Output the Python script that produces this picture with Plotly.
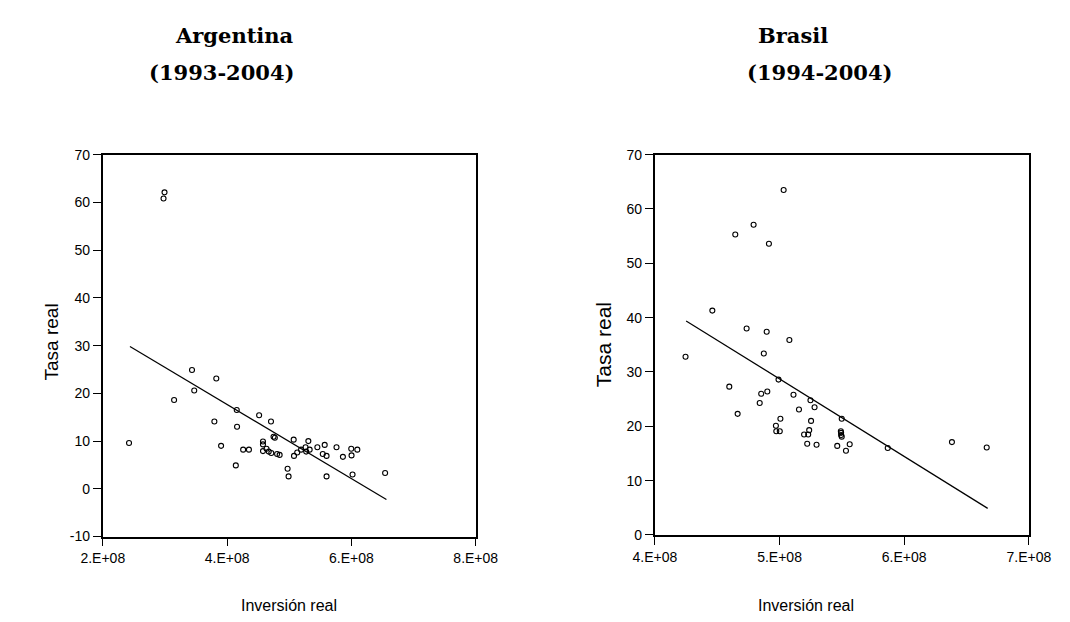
import plotly.graph_objects as go

# ---------------- Data ----------------
# Argentina (1993-2004): inversion real (x), tasa real (y)
arg_x = [2.422e8, 2.977e8, 2.993e8, 3.147e8, 3.435e8, 3.471e8, 3.826e8, 3.795e8,
         3.903e8, 4.155e8, 4.160e8, 4.140e8, 4.258e8, 4.351e8, 4.515e8, 4.577e8,
         4.577e8, 4.577e8, 4.634e8, 4.670e8, 4.711e8, 4.706e8, 4.747e8, 4.768e8,
         4.804e8, 4.845e8, 4.973e8, 4.989e8, 5.071e8, 5.076e8, 5.128e8, 5.190e8,
         5.262e8, 5.272e8, 5.307e8, 5.328e8, 5.452e8, 5.539e8, 5.570e8, 5.600e8,
         5.600e8, 5.760e8, 5.863e8, 5.997e8, 6.002e8, 6.018e8, 6.095e8, 6.542e8]
arg_y = [9.6, 60.8, 62.1, 18.6, 24.9, 20.6, 23.1, 14.1,
         9.0, 16.5, 13.0, 4.9, 8.2, 8.2, 15.4, 9.9,
         9.3, 7.9, 8.4, 7.8, 7.5, 14.1, 10.9, 10.7,
         7.3, 7.1, 4.2, 2.6, 10.3, 6.9, 7.6, 8.2,
         8.7, 7.8, 10.0, 8.2, 8.7, 7.3, 9.2, 6.9,
         2.6, 8.7, 6.7, 8.4, 7.0, 3.0, 8.2, 3.3]
arg_fit_x = [2.437e8, 6.563e8]
arg_fit_y = [29.8, -2.25]

# Brasil (1994-2004)
bra_x = [4.246e8, 4.461e8, 4.597e8, 4.645e8, 4.664e8, 4.736e8, 4.792e8, 4.841e8,
         4.853e8, 4.874e8, 4.897e8, 4.902e8, 4.915e8, 4.971e8, 4.974e8, 4.992e8,
         5.002e8, 5.007e8, 5.033e8, 5.079e8, 5.112e8, 5.156e8, 5.197e8, 5.230e8,
         5.238e8, 5.222e8, 5.248e8, 5.253e8, 5.281e8, 5.297e8, 5.463e8, 5.492e8,
         5.494e8, 5.494e8, 5.499e8, 5.499e8, 5.533e8, 5.563e8, 5.868e8, 6.383e8,
         6.662e8]
bra_y = [32.8, 41.3, 27.3, 55.3, 22.3, 38.0, 57.1, 24.3,
         26.0, 33.4, 37.4, 26.4, 53.6, 20.1, 19.1, 28.6,
         19.1, 21.4, 63.5, 35.9, 25.8, 23.1, 18.5, 18.5,
         19.3, 16.8, 24.8, 21.0, 23.5, 16.6, 16.4, 19.1,
         18.8, 18.4, 18.1, 21.4, 15.5, 16.7, 16.0, 17.1,
         16.1]
bra_fit_x = [4.251e8, 6.670e8]
bra_fit_y = [39.4, 4.9]

# Tick labels
arg_xticks = [2e8, 4e8, 6e8, 8e8]
arg_xticktext = ["2.E+08", "4.E+08", "6.E+08", "8.E+08"]
arg_yticks = [-10, 0, 10, 20, 30, 40, 50, 60, 70]
arg_yticktext = ["-10", "0", "10", "20", "30", "40", "50", "60", "70"]
bra_xticks = [4e8, 5e8, 6e8, 7e8]
bra_xticktext = ["4.E+08", "5.E+08", "6.E+08", "7.E+08"]
bra_yticks = [0, 10, 20, 30, 40, 50, 60, 70]

titles = [("<b>Argentina</b>", 213, 20), ("<b>(1993-2004)</b>", 200, 58),
          ("<b>Brasil</b>", 796, 20), ("<b>(1994-2004)</b>", 824, 58)]

# ---------------- Figure ----------------
W, H = 1070, 622
fig = go.Figure()

marker = dict(symbol="circle-open", size=5, color="black", line=dict(width=1.1, color="black"))

fig.add_trace(go.Scatter(x=arg_x, y=arg_y, mode="markers", marker=marker,
                         xaxis="x", yaxis="y", showlegend=False))
fig.add_trace(go.Scatter(x=arg_fit_x, y=arg_fit_y, mode="lines",
                         line=dict(color="black", width=1.2),
                         xaxis="x", yaxis="y", showlegend=False))
fig.add_trace(go.Scatter(x=bra_x, y=bra_y, mode="markers", marker=marker,
                         xaxis="x2", yaxis="y2", showlegend=False))
fig.add_trace(go.Scatter(x=bra_fit_x, y=bra_fit_y, mode="lines",
                         line=dict(color="black", width=1.2),
                         xaxis="x2", yaxis="y2", showlegend=False))

tickfont = dict(family="Liberation Sans, Arial, sans-serif", size=14, color="black")
axis_common = dict(showgrid=False, zeroline=False, showline=True, linecolor="black",
                   linewidth=1.8, mirror=True, ticks="outside", ticklen=8, tickwidth=1,
                   tickcolor="black", tickfont=tickfont)

fig.update_layout(
    width=W, height=H,
    margin=dict(l=0, r=0, t=0, b=0),
    paper_bgcolor="white", plot_bgcolor="white",
    xaxis=dict(domain=[76 / W, 465.3 / W], range=[2e8, 8e8], anchor="y",
               tickmode="array", tickvals=arg_xticks, ticktext=arg_xticktext, **axis_common),
    yaxis=dict(domain=[(H - 534.3) / H, (H - 142.3) / H], range=[-10, 70], anchor="x",
               tickmode="array", tickvals=arg_yticks, ticktext=arg_yticktext, **axis_common),
    xaxis2=dict(domain=[652.3 / W, 1042.7 / W], range=[4e8, 7e8], anchor="y2",
                tickmode="array", tickvals=bra_xticks, ticktext=bra_xticktext, **axis_common),
    yaxis2=dict(domain=[(H - 532.7) / H, (H - 142.3) / H], range=[0, 70], anchor="x2",
                tickmode="array", tickvals=bra_yticks, **axis_common),
)

ann = []
for txt, cx, cy in titles:
    ann.append(dict(text=txt, x=cx / W, y=1 - cy / H, xref="paper", yref="paper",
                    xanchor="center", yanchor="middle", showarrow=False,
                    font=dict(family="DejaVu Serif, serif", size=21, color="black")))

label_font = "Liberation Sans Narrow, Arial Narrow, Liberation Sans, Arial, sans-serif"
for cx, cy, size in [(22, 335, 19), (598, 337, 21)]:
    ann.append(dict(text="Tasa real", x=cx / W, y=1 - cy / H, xref="paper", yref="paper",
                    xanchor="center", yanchor="middle", textangle=-90, showarrow=False,
                    font=dict(family="Liberation Sans, Arial, sans-serif", size=size, color="black")))
for cx, cy in [(270, 605), (810, 605)]:
    ann.append(dict(text="Inversión real", x=cx / W, y=1 - cy / H, xref="paper", yref="paper",
                    xanchor="center", yanchor="middle", showarrow=False,
                    font=dict(family=label_font, size=16, color="black")))
fig.update_layout(annotations=ann)

fig.write_html("out.html")
